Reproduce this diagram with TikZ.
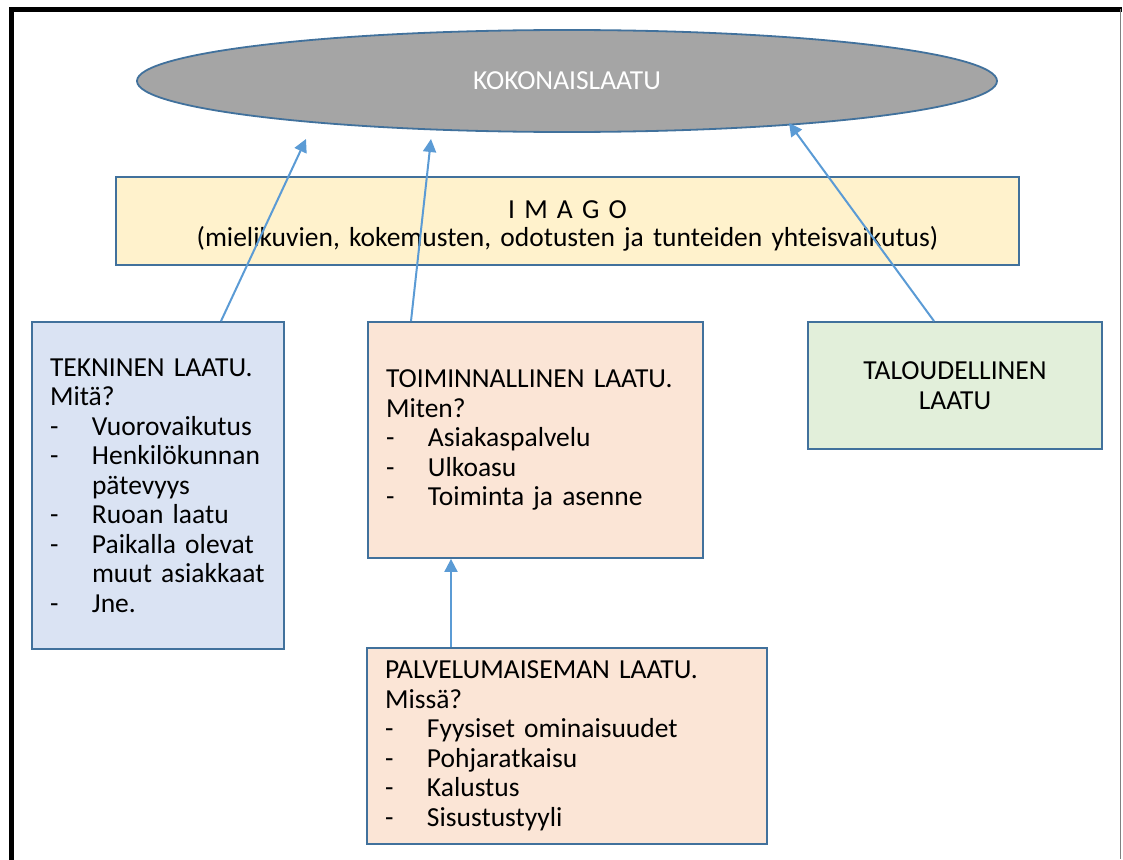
\documentclass[tikz,border=0pt]{standalone}
\usepackage{fontspec}
\setmainfont{Carlito}
\usetikzlibrary{shapes.geometric,arrows.meta}
\definecolor{edgeblue}{HTML}{41719C}
\definecolor{arrowblue}{HTML}{5B9BD5}
\definecolor{ellgray}{HTML}{A5A5A5}
\definecolor{imagofill}{HTML}{FFF2CC}
\definecolor{bluefill}{HTML}{DAE3F3}
\definecolor{peachfill}{HTML}{FBE5D6}
\definecolor{greenfill}{HTML}{E2EFDA}
\newcommand{\itm}[1]{\makebox[42pt][l]{-}#1}
\newcommand{\cnt}[1]{\hspace*{42pt}#1}
\begin{document}
\begin{tikzpicture}[x=1pt,y=-1pt,
  txt/.style={font=\fontsize{27.5}{29.5}\selectfont},
  boxnode/.style={txt,draw=edgeblue,line width=1.8pt,rectangle,inner xsep=18pt,inner ysep=0pt,align=left},
  conn/.style={draw=arrowblue,line width=2pt,-{Triangle[length=13pt,width=13pt]}}]
\useasboundingbox (0,0) rectangle (1123,859);
% frame
\draw[line width=4.5pt,line cap=rect] (11.5,859) -- (11.5,9.5) -- (1120,9.5);
\draw[line width=1.5pt,gray] (1120.5,9.5) -- (1120.5,859);
% ellipse
\node[ellipse,draw=edgeblue,line width=1.8pt,fill=ellgray,minimum width=860pt,minimum height=102pt,inner sep=0pt,txt,text=white] (koko) at (567,81) {KOKONAISLAATU};
% imago
\node[boxnode,fill=imagofill,align=center,minimum width=903pt,minimum height=88pt,text width=867pt,font=\fontsize{27.5}{28.5}\selectfont] (imago) at (567.5,221) {\rule{0pt}{28pt}I M A G O\\(mielikuvien, kokemusten, odotusten ja tunteiden yhteisvaikutus)};
% tekninen
\node[boxnode,fill=bluefill,minimum width=252pt,minimum height=327pt,text width=216pt] (tek) at (158,485.5) {TEKNINEN LAATU.\\Mitä?\\\itm{Vuorovaikutus}\\\itm{Henkilökunnan}\\\cnt{pätevyys}\\\itm{Ruoan laatu}\\\itm{Paikalla olevat}\\\cnt{muut asiakkaat}\\\itm{Jne.}};
% toiminnallinen
\node[boxnode,fill=peachfill,minimum width=335pt,minimum height=236pt,text width=299pt] (toim) at (535.5,440) {TOIMINNALLINEN LAATU.\\Miten?\\\itm{Asiakaspalvelu}\\\itm{Ulkoasu}\\\itm{Toiminta ja asenne}};
% taloudellinen
\node[boxnode,fill=greenfill,align=center,minimum width=294pt,minimum height=127pt,text width=258pt] (talo) at (955,385.5) {TALOUDELLINEN\\LAATU};
% palvelumaiseman
\node[boxnode,fill=peachfill,minimum width=400pt,minimum height=196pt,text width=364pt] (palv) at (567,746) {PALVELUMAISEMAN LAATU.\\Missä?\\\itm{Fyysiset ominaisuudet}\\\itm{Pohjaratkaisu}\\\itm{Kalustus}\\\itm{Sisustustyyli}};
% arrow end points
\coordinate (e1) at (306,139);
\coordinate (e2) at (431,139);
\coordinate (e3) at (789,123);
\draw[conn] (tek.north -| 221,0) -- (e1);
\draw[conn] (toim.north -| 411,0) -- (e2);
\draw[conn] (talo.north -| 934,0) -- (e3);
\draw[conn] (palv.north -| 451,0) -- (toim.south -| 451,0);
\end{tikzpicture}
\end{document}
